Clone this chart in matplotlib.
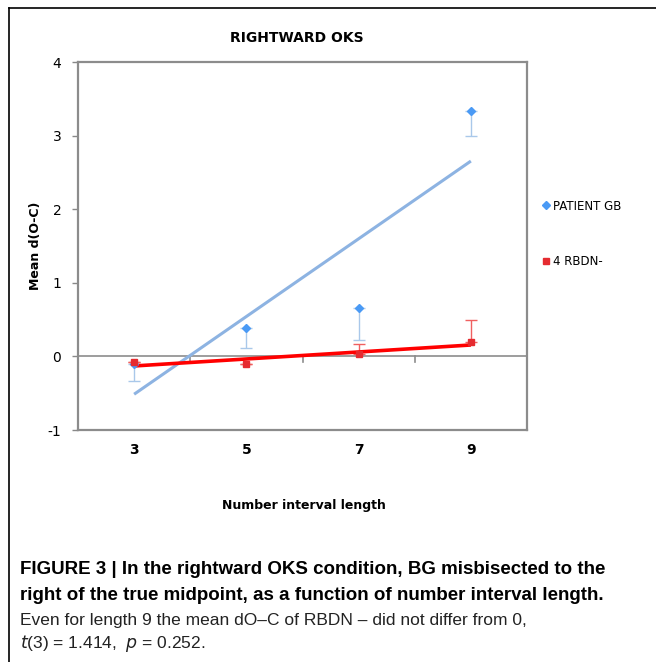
import matplotlib
matplotlib.use("Agg")
import matplotlib.pyplot as plt
import numpy as np

# number interval lengths (categorical x axis)
lengths = ["3", "5", "7", "9"]
length_vals = [3, 5, 7, 9]

# mean d(O-C) per group
patient_gb = [-0.10, 0.39, 0.66, 3.33]
patient_gb_err = [0.24, 0.27, 0.44, 0.33]   # drawn downwards only
rbdn = [-0.07, -0.11, 0.03, 0.20]
rbdn_err = [0.0, 0.0, 0.14, 0.30]           # drawn upwards only

yticks = [-1, 0, 1, 2, 3, 4]

fig = plt.figure(figsize=(6.56, 6.62), dpi=100)
ax = fig.add_axes([78 / 656, 1 - 430 / 662, 449 / 656, 368 / 662])

x = np.arange(1, len(lengths) + 1)
zero = [0] * len(x)

# linear trend lines (Excel-style) fitted on the means
for vals, col, lw in [(patient_gb, "#8db3e2", 2.2), (rbdn, "#ff0000", 2.6)]:
    k, b = np.polyfit(length_vals, vals, 1)
    ax.plot(x, [k * v + b for v in length_vals], color=col, lw=lw, zorder=3,
            solid_capstyle="butt")

ax.errorbar(x, patient_gb, yerr=[patient_gb_err, zero], fmt="none",
            ecolor="#a9c8ea", elinewidth=1, capsize=4, capthick=1, zorder=2)
ax.errorbar(x, rbdn, yerr=[zero, rbdn_err], fmt="none",
            ecolor="#f06060", elinewidth=1, capsize=4, capthick=1, zorder=2)
ax.plot(x, patient_gb, "D", color="#4a9af5", ms=4, ls="none", zorder=4,
        label="PATIENT GB")
ax.plot(x, rbdn, "s", color="#e52b30", ms=5, ls="none", zorder=5,
        label="4 RBDN-")

ax.set_xlim(0.5, len(lengths) + 0.5)
ax.set_ylim(-1, 4)
ax.set_yticks(yticks)
ax.set_yticklabels([str(t) for t in yticks], fontsize=10, family="DejaVu Sans")
ax.tick_params(axis="y", length=4, width=1, color="#888888", pad=8)
ax.set_xticks([])
for s in ax.spines.values():
    s.set_color("#8c8c8c")
    s.set_linewidth(1.6)

# zero line with category separator ticks
ax.axhline(0, color="#8c8c8c", lw=1.2, zorder=1)
for b in np.arange(1.5, len(lengths), 1.0):
    ax.plot([b, b], [0, -0.07], color="#8c8c8c", lw=1.2, zorder=1)
for xi, lab in zip(x, lengths):
    ax.text(xi, -1.27, lab, ha="center", va="center", fontsize=10,
            fontweight="bold")

fig.text(297 / 656, 1 - 38 / 662, "RIGHTWARD OKS", ha="center", va="center",
         fontsize=10, fontweight="bold")
fig.text(35 / 656, 1 - 246 / 662, "Mean d(O-C)", ha="center", va="center",
         rotation=90, fontsize=9, fontweight="bold")
fig.text(304 / 656, 1 - 505 / 662, "Number interval length", ha="center",
         va="center", fontsize=9, fontweight="bold")

# legend outside the plot area
fig.legend(loc="upper left", bbox_to_anchor=(532 / 656, 1 - 189 / 662),
           frameon=False, fontsize=8.5, handlelength=0.6, handletextpad=0.3,
           labelspacing=3.6, markerscale=0.9)

# figure frame (top and left only)
fig.add_artist(plt.Line2D([9 / 656, 1], [1 - 8 / 662] * 2, color="black",
                          lw=1.2, transform=fig.transFigure))
fig.add_artist(plt.Line2D([9 / 656] * 2, [0, 1 - 8 / 662], color="black",
                          lw=1.2, transform=fig.transFigure))

cap = ["Liberation Sans Narrow", "Liberation Sans", "DejaVu Sans"]
fig.text(20 / 656, 1 - 570 / 662,
         "FIGURE 3 | In the rightward OKS condition, BG misbisected to the",
         fontsize=13.5, fontweight="bold", family=cap, va="center")
fig.text(20 / 656, 1 - 595 / 662,
         "right of the true midpoint, as a function of number interval length.",
         fontsize=13.5, fontweight="bold", family=cap, va="center")
fig.text(20 / 656, 1 - 620 / 662,
         "Even for length 9 the mean dO\u2013C of RBDN \u2013 did not differ from 0,",
         fontsize=12.5, family=cap, va="center", color="#222222")
fig.text(20 / 656, 1 - 643 / 662,
         "$t$(3) = 1.414,  $p$ = 0.252.",
         fontsize=12.5, family=cap, va="center", color="#222222")

fig.savefig("out.png", dpi=100)
